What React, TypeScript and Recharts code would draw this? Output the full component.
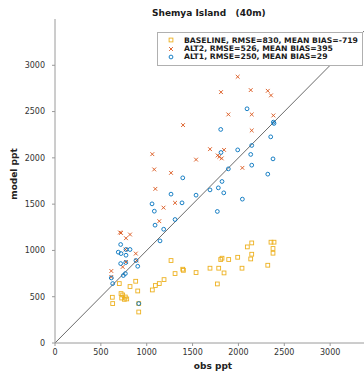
import { ScatterChart, Scatter, XAxis, YAxis, ReferenceLine, Legend } from 'recharts';

const TITLE = 'Shemya Island   (40m)';
const X_LABEL = 'obs ppt';
const Y_LABEL = 'model ppt';
const X_TICKS = [0, 500, 1000, 1500, 2000, 2500, 3000];
const Y_TICKS = [0, 500, 1000, 1500, 2000, 2500, 3000];

const YELLOW = '#EDB120';
const RED = '#D95319';
const BLUE = '#0072BD';
const FONT = '"DejaVu Sans", sans-serif';

// BASELINE (squares)
const baselineObs = [
  1265, 1309, 1393, 1400, 1538, 1189, 1137, 1094, 1061, 880, 902, 818, 701, 720, 738, 767, 756, 782, 727, 625,
  629, 913, 913, 2145, 2097, 2355, 2388, 2377, 2377, 2145, 2134, 1992, 2320, 1807, 1821, 1894, 1690, 1785, 1843,
  2039, 1770,
];
const baselineModel = [
  891, 750, 797, 785, 761, 685, 642, 621, 573, 667, 562, 610, 642, 534, 519, 497, 472, 476, 486, 494, 426, 426,
  335, 1081, 1038, 1089, 1089, 1021, 970, 959, 908, 926, 840, 902, 916, 902, 808, 808, 757, 808, 638,
];

// ALT2 (crosses)
const alt2Obs = [
  1396, 1061, 1538, 1082, 1265, 1094, 1309, 1183, 1137, 709, 720, 818, 774, 769, 881, 774, 891, 738, 614, 614,
  1992, 1810, 2134, 2320, 2355, 1890, 2145, 2381, 2145, 1690, 1843, 1774, 1792, 1818, 2043,
];
const alt2Model = [
  2354, 2040, 1981, 1875, 1838, 1665, 1514, 1462, 1316, 1194, 1189, 1172, 1132, 1010, 966, 876, 891, 822, 778,
  714, 2876, 2710, 2732, 2724, 2675, 2469, 2469, 2458, 2296, 2094, 2086, 2026, 2011, 1994, 1892,
];

// ALT1 (circles)
const alt1Obs = [
  1091, 1185, 1145, 716, 774, 818, 690, 720, 774, 716, 771, 883, 902, 767, 745, 614, 629, 913, 1393, 1265, 1058,
  1385, 1083, 1538, 1309, 2094, 2381, 2388, 1807, 2352, 2145, 1992, 1810, 2134, 2377, 2145, 1890, 2320, 1821,
  1781, 1690, 1840, 2043, 1770,
];
const alt1Model = [
  1273, 1229, 1103, 1064, 1010, 1010, 981, 966, 948, 858, 869, 891, 829, 750, 729, 703, 642, 426, 1784, 1608,
  1503, 1514, 1424, 1597, 1334, 2530, 2386, 2372, 2307, 2227, 2134, 2086, 2058, 2037, 1989, 1921, 1881, 1824,
  1745, 1676, 1654, 1622, 1554, 1421,
];

const LEGEND_ITEMS = [
  { label: 'BASELINE, RMSE=830, MEAN BIAS=-719', color: YELLOW, kind: 'square' },
  { label: 'ALT2, RMSE=526, MEAN BIAS=395', color: RED, kind: 'cross' },
  { label: 'ALT1, RMSE=250, MEAN BIAS=29', color: BLUE, kind: 'circle' },
];

const toPoints = (xs: number[], ys: number[]) => xs.map((x, i) => ({ x, y: ys[i] }));

const baselineData = toPoints(baselineObs, baselineModel);
const alt2Data = toPoints(alt2Obs, alt2Model);
const alt1Data = toPoints(alt1Obs, alt1Model);

function Marker({ kind, color, cx, cy }: { kind: string; color: string; cx: number; cy: number }) {
  const s = 1.9;
  if (kind === 'square') {
    return <rect x={cx - s} y={cy - s} width={s * 2} height={s * 2} fill="none" stroke={color} strokeWidth={0.9} />;
  }
  if (kind === 'cross') {
    return (
      <g stroke={color} strokeWidth={0.9}>
        <line x1={cx - s} y1={cy - s} x2={cx + s} y2={cy + s} />
        <line x1={cx - s} y1={cy + s} x2={cx + s} y2={cy - s} />
      </g>
    );
  }
  return <circle cx={cx} cy={cy} r={s} fill="none" stroke={color} strokeWidth={0.9} />;
}

const shapeFor = (kind: string, color: string) => (props: any) =>
  <Marker kind={kind} color={color} cx={props.cx} cy={props.cy} />;

function LegendBox() {
  return (
    <div
      style={{
        border: '1px solid #b0b0b0',
        background: '#fff',
        width: 204,
        padding: '3px 0 4px 0',
        fontFamily: FONT,
        fontWeight: 'bold',
        fontSize: 7.7,
        color: '#1a1a1a',
      }}
    >
      {LEGEND_ITEMS.map((item) => (
        <div key={item.label} style={{ display: 'flex', alignItems: 'center', height: 8.4 }}>
          <svg width={26} height={8} style={{ flex: 'none' }}>
            <Marker kind={item.kind} color={item.color} cx={13} cy={4} />
          </svg>
          <span style={{ whiteSpace: 'nowrap' }}>{item.label}</span>
        </div>
      ))}
    </div>
  );
}

export default function App() {
  const tick = { fill: '#333', fontSize: 8, fontFamily: FONT };
  return (
    <div
      style={{
        position: 'absolute',
        left: 0,
        top: 0,
        width: 364,
        height: 377,
        overflow: 'hidden',
        background: '#fff',
      }}
    >
      <div
        style={{
          position: 'absolute',
          left: 152,
          top: 8,
          whiteSpace: 'pre',
          fontFamily: FONT,
          fontWeight: 'bold',
          fontSize: 9,
          color: '#1a1a1a',
        }}
      >
        {TITLE}
      </div>
      <ScatterChart width={400} height={377} margin={{ top: 19, right: 24, left: 0, bottom: 0 }}>
        <XAxis
          type="number"
          dataKey="x"
          domain={[0, 3500]}
          ticks={X_TICKS}
          height={34}
          tickSize={3}
          tickMargin={3}
          stroke="#9a9a9a"
          tick={tick}
          label={{
            content: () => (
              <text x={213} y={369} textAnchor="middle" fontFamily={FONT} fontWeight="bold" fontSize={9} fill="#222">
                {X_LABEL}
              </text>
            ),
          }}
        />
        <YAxis
          type="number"
          dataKey="y"
          domain={[0, 3500]}
          ticks={Y_TICKS}
          width={55}
          tickSize={3}
          tickMargin={7}
          stroke="#9a9a9a"
          tick={tick}
          label={{
            content: () => (
              <text
                x={17}
                y={174}
                transform="rotate(-90 17 174)"
                textAnchor="middle"
                fontFamily={FONT}
                fontWeight="bold"
                fontSize={9}
                fill="#222"
              >
                {Y_LABEL}
              </text>
            ),
          }}
        />
        <ReferenceLine
          segment={[
            { x: 0, y: 0 },
            { x: 3500, y: 3500 },
          ]}
          stroke="#444"
          strokeWidth={0.8}
        />
        <Scatter data={baselineData} shape={shapeFor('square', YELLOW)} isAnimationActive={false} />
        <Scatter data={alt2Data} shape={shapeFor('cross', RED)} isAnimationActive={false} />
        <Scatter data={alt1Data} shape={shapeFor('circle', BLUE)} isAnimationActive={false} />
        <Legend
          layout="vertical"
          align="center"
          verticalAlign="middle"
          content={() => <LegendBox />}
          wrapperStyle={{ position: 'absolute', left: 157, top: 32, width: 'auto' }}
        />
      </ScatterChart>
    </div>
  );
}
